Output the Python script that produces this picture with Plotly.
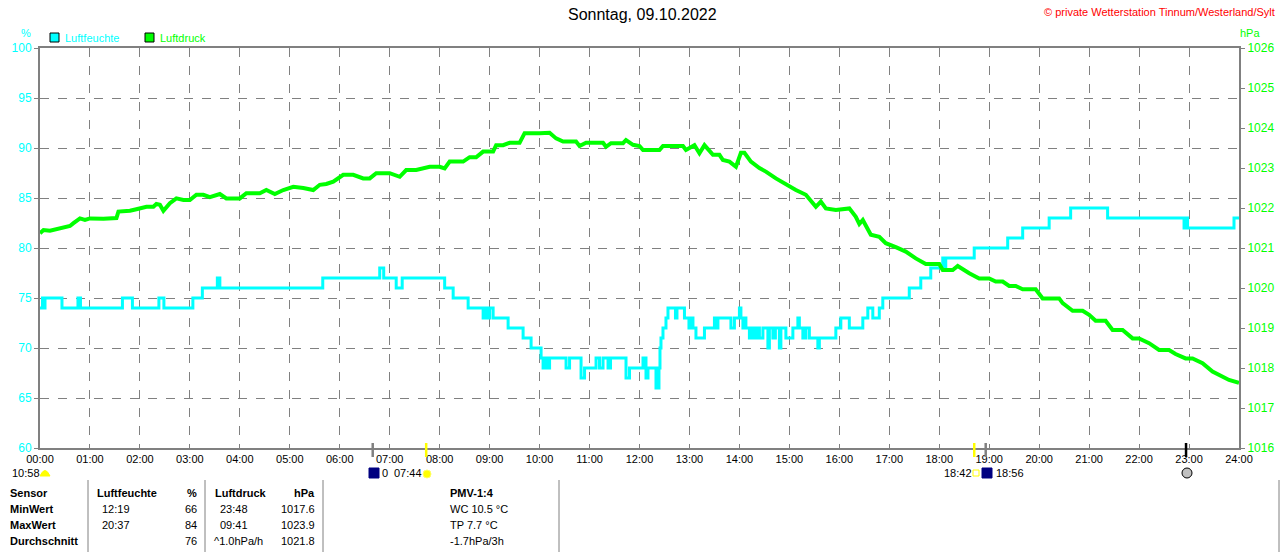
import plotly.graph_objects as go

# Luftfeuchte (%), Stufen: Zeit in Stunden -> Wert ab diesem Zeitpunkt
hum_time = [0.0, 0.05, 0.08, 0.1, 0.44, 0.76, 0.81, 1.65, 1.85, 2.38, 2.48, 3.06, 3.25, 3.55, 3.6,
            5.66, 6.8, 6.88, 7.13, 7.25, 8.1, 8.27, 8.57, 8.87, 8.93, 8.97, 9.0, 9.07, 9.37, 9.67,
            9.83, 10.03, 10.07, 10.1, 10.14, 10.2, 10.53, 10.6, 10.83, 10.9, 11.13, 11.2, 11.27,
            11.37, 11.42, 11.47, 11.73, 11.8, 12.07, 12.13, 12.17, 12.25, 12.33, 12.39, 12.41,
            12.43, 12.47, 12.53, 12.57, 12.67, 12.72, 12.75, 12.9, 12.99, 13.03, 13.07, 13.13,
            13.3, 13.5, 13.53, 13.57, 13.83, 13.9, 14.0, 14.03, 14.07, 14.1, 14.13, 14.2, 14.25,
            14.3, 14.35, 14.4, 14.47, 14.57, 14.6, 14.67, 14.72, 14.8, 14.83, 14.93, 15.07, 15.17,
            15.2, 15.27, 15.33, 15.4, 15.57, 15.6, 15.93, 16.03, 16.2, 16.47, 16.57, 16.67, 16.8,
            16.87, 17.4, 17.63, 17.83, 18.07, 18.1, 18.13, 18.7, 19.37, 19.67, 20.2, 20.63, 21.37,
            22.9, 22.93, 22.97, 23.9, 24.0]
hum_val = [74, 75, 74, 75, 74, 75, 74, 75, 74, 75, 74, 75, 76, 77, 76,
           77, 78, 77, 76, 77, 76, 75, 74, 73, 74, 73, 74, 73, 72, 71,
           70, 69, 68, 69, 68, 69, 68, 69, 67, 68, 69, 68, 69,
           68, 69, 69, 67, 68, 69, 67, 68, 68, 66, 68, 70,
           71, 72, 73, 74, 74, 73, 74, 73, 72, 73, 72, 71,
           72, 73, 72, 73, 72, 73, 74, 73, 72, 73, 72, 71, 72,
           71, 72, 71, 72, 70, 72, 71, 72, 70, 72, 71, 72, 73,
           72, 71, 72, 71, 70, 71, 72, 73, 72, 73, 74, 73, 74,
           75, 76, 77, 78, 79, 78, 79, 80, 81, 82, 83, 84, 83,
           82, 83, 82, 83, 83]

# Luftdruck (hPa)
prs_time = [0.0, 0.07, 0.2, 0.33, 0.4, 0.47, 0.6, 0.67, 0.8, 0.9, 1.0, 1.27, 1.53, 1.57, 1.8,
            1.93, 2.07, 2.13, 2.27, 2.33, 2.4, 2.47, 2.6, 2.73, 2.87, 3.0, 3.13, 3.27, 3.4, 3.6,
            3.73, 4.0, 4.13, 4.4, 4.53, 4.7, 4.87, 5.07, 5.27, 5.47, 5.6, 5.73, 5.87, 6.07, 6.27,
            6.47, 6.6, 6.73, 7.0, 7.2, 7.33, 7.53, 7.8, 8.0, 8.1, 8.2, 8.47, 8.6, 8.73, 8.87,
            9.07, 9.13, 9.27, 9.4, 9.6, 9.7, 10.0, 10.2, 10.33, 10.47, 10.73, 10.8, 10.93, 11.27,
            11.33, 11.43, 11.67, 11.73, 11.87, 12.0, 12.07, 12.4, 12.47, 12.87, 12.93, 13.1, 13.2,
            13.3, 13.47, 13.6, 13.67, 13.8, 13.93, 14.03, 14.1, 14.23, 14.4, 14.53, 14.73, 15.0,
            15.13, 15.33, 15.53, 15.63, 15.73, 15.93, 16.2, 16.33, 16.4, 16.47, 16.63, 16.8, 16.93,
            17.13, 17.33, 17.53, 17.73, 18.0, 18.07, 18.27, 18.37, 18.6, 18.8, 19.0, 19.13, 19.27,
            19.4, 19.53, 19.67, 19.93, 20.07, 20.4, 20.47, 20.67, 20.87, 21.0, 21.13, 21.33, 21.47,
            21.67, 21.87, 22.0, 22.2, 22.4, 22.6, 22.73, 22.93, 23.07, 23.27, 23.47, 23.67, 23.8,
            24.0]
prs_val = [1021.37, 1021.45, 1021.43, 1021.47, 1021.5, 1021.53, 1021.55, 1021.62, 1021.74, 1021.7,
           1021.74, 1021.73, 1021.75, 1021.91, 1021.93, 1021.97, 1022.0, 1022.03, 1022.03, 1022.1,
           1022.08, 1021.93, 1022.12, 1022.24, 1022.2, 1022.2, 1022.33, 1022.33, 1022.27, 1022.35,
           1022.24, 1022.24, 1022.37, 1022.37, 1022.45, 1022.35, 1022.45, 1022.53, 1022.5, 1022.45,
           1022.58, 1022.6, 1022.66, 1022.83, 1022.83, 1022.74, 1022.74, 1022.87, 1022.87, 1022.78,
           1022.95, 1022.95, 1023.03, 1023.03, 1022.99, 1023.16, 1023.16, 1023.27, 1023.27, 1023.41,
           1023.41, 1023.57, 1023.57, 1023.63, 1023.63, 1023.87, 1023.87, 1023.88, 1023.74, 1023.66,
           1023.66, 1023.55, 1023.63, 1023.63, 1023.53, 1023.62, 1023.62, 1023.7, 1023.58, 1023.55,
           1023.45, 1023.45, 1023.55, 1023.55, 1023.45, 1023.57, 1023.37, 1023.57, 1023.33, 1023.33,
           1023.2, 1023.16, 1023.03, 1023.38, 1023.38, 1023.16, 1023.0, 1022.91, 1022.74, 1022.53,
           1022.45, 1022.33, 1022.03, 1022.16, 1021.99, 1021.95, 1021.99, 1021.78, 1021.6, 1021.7,
           1021.33, 1021.28, 1021.12, 1021.02, 1020.91, 1020.74, 1020.6, 1020.6, 1020.45, 1020.45,
           1020.55, 1020.37, 1020.24, 1020.24, 1020.16, 1020.16, 1020.05, 1020.05, 1019.97, 1019.97,
           1019.74, 1019.74, 1019.62, 1019.43, 1019.43, 1019.33, 1019.18, 1019.18, 1018.95, 1018.95,
           1018.74, 1018.74, 1018.62, 1018.45, 1018.45, 1018.35, 1018.24, 1018.24, 1018.12, 1017.91,
           1017.77, 1017.7, 1017.63]

hour_labels = ["%02d:00" % h for h in range(25)]

# Sonnen-/Mondmarken an der x-Achse (Stunde, Farbe)
event_hours = [6.66, 7.73, 18.7, 18.93, 22.94]
event_colors = ["#808080", "#ffff00", "#ffff00", "#808080", "#000000"]

# Tabelle unten
row_names = ["Sensor", "MinWert", "MaxWert", "Durchschnitt"]
hum_times = ["Luftfeuchte", "12:19", "20:37", ""]
hum_stats = ["%", "66", "84", "76"]
prs_times = ["Luftdruck", "23:48", "09:41", "^1.0hPa/h"]
prs_stats = ["hPa", "1017.6", "1023.9", "1021.8"]
pmv_lines = ["PMV-1:4", "WC 10.5 °C", "TP 7.7 °C", "-1.7hPa/3h"]

CYAN = "#00ffff"
GREEN = "#00ff00"
GRAY = "#808080"
FONT = "Liberation Sans"

# Plotbereich in Pixeln
L, R, T, B = 40, 1239, 48, 448


def px(x):
    return (x - L) / (R - L)


def py(y):
    return (B - y) / (B - T)


fig = go.Figure()
fig.add_trace(go.Scatter(x=prs_time, y=prs_val, mode="lines", yaxis="y2",
                         line=dict(color=GREEN, width=4), name="Luftdruck"))
fig.add_trace(go.Scatter(x=hum_time, y=hum_val, mode="lines", line_shape="hv",
                         line=dict(color=CYAN, width=3), name="Luftfeuchte"))

annotations = []
shapes = []


def text(x, y, s, color="black", size=11, anchor="left", bold=False):
    if bold:
        s = "<b>" + s + "</b>"
    annotations.append(dict(x=px(x), y=py(y), xref="paper", yref="paper", text=s, showarrow=False,
                            xanchor=anchor, yanchor="middle",
                            font=dict(family=FONT, size=size, color=color)))


def rect(x0, y0, x1, y1, fill, line="black", width=1):
    shapes.append(dict(type="rect", xref="paper", yref="paper", x0=px(x0), x1=px(x1),
                       y0=py(y0), y1=py(y1), fillcolor=fill, line=dict(color=line, width=width)))


# Titel & Kopf
text(642, 15, "Sonntag, 09.10.2022", size=16, anchor="center")
text(1277, 12, "© private Wetterstation Tinnum/Westerland/Sylt", color="#ff0000", size=11, anchor="right")
text(26, 33, "%", color=CYAN, anchor="center")
text(1250, 33, "hPa", color=GREEN, anchor="center")

# Legende
rect(50, 33, 59, 42, CYAN)
text(63, 38, "Luftfeuchte", color=CYAN)
rect(145, 33, 154, 42, GREEN)
text(158, 38, "Luftdruck", color=GREEN)

# Ereignismarken
for h, c in zip(event_hours, event_colors):
    shapes.append(dict(type="line", xref="x", yref="paper", x0=h, x1=h, y0=py(443), y1=py(457),
                       line=dict(color=c, width=2.5)))

# Zeiten und Symbole unter der Achse
text(10, 473, "10:58")
shapes.append(dict(type="path", xref="paper", yref="paper",
                   path="M %f %f Q %f %f %f %f Z" % (px(40), py(476), px(45), py(465), px(50), py(476)),
                   fillcolor="#ffff00", line=dict(color="#ffff00", width=1)))
rect(369, 468, 379, 478, "#000080", line="#000080")
text(380, 473, "0")
text(392, 473, "07:44")
shapes.append(dict(type="circle", xref="paper", yref="paper", x0=px(423), x1=px(431), y0=py(470),
                   y1=py(478), fillcolor="#ffff00", line=dict(color="#ffff66", width=1)))
text(942, 473, "18:42")
rect(973, 470, 979, 476, "white", line="#ffff00")
rect(982, 468, 992, 478, "#000080", line="#000080")
text(994, 473, "18:56")
shapes.append(dict(type="circle", xref="paper", yref="paper", x0=px(1182), x1=px(1192), y0=py(468),
                   y1=py(478), fillcolor="#c0c0c0", line=dict(color="black", width=1)))

# Tabelle
row_y = [493, 509, 525, 541]
for i, yy in enumerate(row_y):
    head = i == 0
    text(8, yy, row_names[i], bold=True)
    text(95 if head else 100, yy, hum_times[i], bold=head)
    text(199, yy, hum_stats[i], anchor="right", bold=head)
    text(213 if head else (212 if i == 3 else 218), yy, prs_times[i], bold=head)
    text(317, yy, prs_stats[i], anchor="right", bold=head)
    text(448, yy, pmv_lines[i], bold=head)
for xv in [88, 205, 323, 559, 1279]:
    shapes.append(dict(type="line", xref="paper", yref="paper", x0=px(xv), x1=px(xv),
                       y0=py(480), y1=py(552), line=dict(color=GRAY, width=1)))

fig.update_layout(
    width=1280, height=552,
    margin=dict(l=L, r=1280 - R, t=T, b=552 - B),
    paper_bgcolor="white", plot_bgcolor="white",
    showlegend=False,
    font=dict(family=FONT, size=11, color="black"),
    xaxis=dict(range=[0, 24], tickvals=list(range(25)), ticktext=hour_labels, automargin=False,
               showgrid=True, gridcolor=GRAY, griddash="dash", gridwidth=1,
               showline=True, linecolor=GRAY, linewidth=2, mirror=True,
               ticks="", zeroline=False, tickfont=dict(size=11, color="black")),
    yaxis=dict(range=[60, 100], dtick=5, showgrid=True, gridcolor=GRAY, griddash="dash",
               automargin=False,
               showline=True, linecolor=GRAY, linewidth=2, ticks="outside", ticklen=4,
               tickcolor=GRAY, zeroline=False, tickfont=dict(size=12, color=CYAN)),
    yaxis2=dict(range=[1016, 1026], dtick=1, overlaying="y", side="right", showgrid=False,
                automargin=False,
                showline=True, linecolor=GRAY, linewidth=2, ticks="outside", ticklen=4,
                tickcolor=GRAY, zeroline=False, tickfont=dict(size=12, color=GREEN)),
    annotations=annotations,
    shapes=shapes,
)

fig.write_html("out.html", config={"displayModeBar": False},
               post_script="document.body.style.margin='0px';document.body.style.overflow='hidden';")
